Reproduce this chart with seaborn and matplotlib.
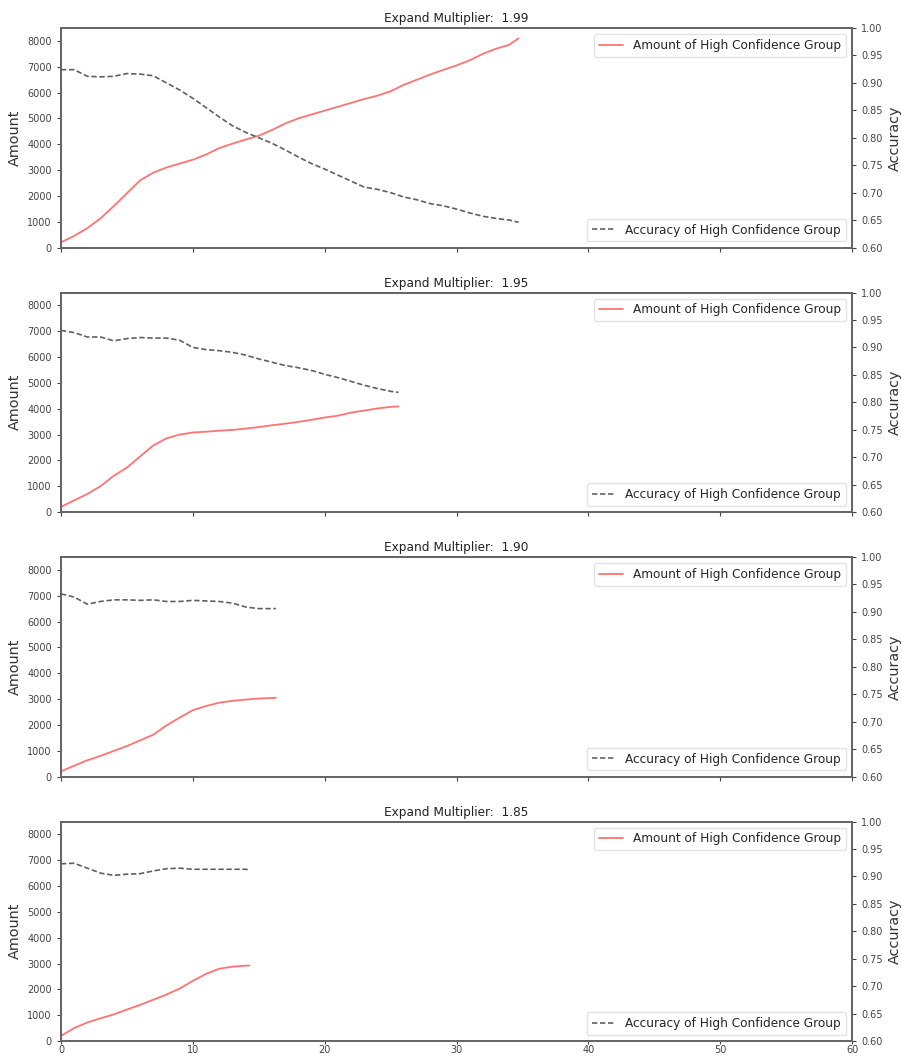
import numpy as np
import pandas as pd
import matplotlib
matplotlib.use('Agg')
import matplotlib.pyplot as plt
import seaborn as sns

sns.set_style('ticks')
plt.rcParams['font.family'] = ['DejaVu Sans']

multipliers = ['1.99', '1.95', '1.90', '1.85']

# panel 1.99
steps_199 = list(range(35)) + [34.7]
amount_199 = [200, 450, 750, 1130, 1600, 2100, 2600, 2900, 3100, 3250,
              3400, 3600, 3850, 4020, 4180, 4330, 4550, 4800, 5000, 5150,
              5300, 5450, 5600, 5750, 5880, 6050, 6300, 6500, 6700, 6880,
              7050, 7250, 7500, 7700, 7850, 8100]
acc_199 = [0.924, 0.924, 0.912, 0.911, 0.912, 0.917, 0.916, 0.913, 0.900, 0.887,
           0.872, 0.855, 0.838, 0.822, 0.810, 0.800, 0.790, 0.778, 0.765, 0.753,
           0.743, 0.732, 0.721, 0.710, 0.706, 0.700, 0.692, 0.687, 0.680, 0.676,
           0.670, 0.663, 0.657, 0.653, 0.650, 0.646]

# panel 1.95
steps_195 = list(range(26)) + [25.6]
amount_195 = [200, 450, 700, 1000, 1400, 1720, 2150, 2580, 2850, 3000,
              3080, 3110, 3150, 3180, 3230, 3290, 3360, 3420, 3490, 3570,
              3660, 3730, 3850, 3930, 4010, 4070, 4090]
acc_195 = [0.931, 0.927, 0.919, 0.919, 0.912, 0.916, 0.918, 0.917, 0.917, 0.913,
           0.900, 0.896, 0.894, 0.891, 0.886, 0.879, 0.873, 0.867, 0.863, 0.858,
           0.851, 0.845, 0.838, 0.831, 0.825, 0.820, 0.818]

# panel 1.90
steps_190 = list(range(17)) + [16.3]
amount_190 = [200, 420, 630, 800, 990, 1180, 1400, 1620, 1980, 2280,
              2570, 2730, 2860, 2930, 2980, 3020, 3040, 3050]
acc_190 = [0.933, 0.927, 0.914, 0.919, 0.922, 0.922, 0.921, 0.922, 0.919, 0.919,
           0.921, 0.920, 0.919, 0.916, 0.909, 0.906, 0.906, 0.906]

# panel 1.85
steps_185 = list(range(15)) + [14.3]
amount_185 = [200, 500, 720, 880, 1030, 1220, 1400, 1600, 1800, 2030,
              2330, 2600, 2800, 2880, 2920, 2925]
acc_185 = [0.923, 0.924, 0.915, 0.906, 0.902, 0.904, 0.905, 0.910, 0.914, 0.915,
           0.913, 0.913, 0.913, 0.913, 0.913, 0.912]

panels = [(steps_199, amount_199, acc_199),
          (steps_195, amount_195, acc_195),
          (steps_190, amount_190, acc_190),
          (steps_185, amount_185, acc_185)]

fig, axes = plt.subplots(4, 1, figsize=(9.02, 10.57), dpi=100, sharex=True)
fig.subplots_adjust(left=0.0676, right=0.9446, top=0.9735, bottom=0.0151, hspace=0.205)

edge = '#666666'
for ax, mult, (steps, amount, acc) in zip(axes, multipliers, panels):
    df = pd.DataFrame({'step': steps, 'amount': amount, 'acc': acc})
    sns.lineplot(data=df, x='step', y='amount', ax=ax, color='#ff7373', linewidth=1.3,
                 label='Amount of High Confidence Group', sort=False)
    ax.set_xlim(0, 60)
    ax.set_ylim(0, 8500)
    ax.set_yticks(np.arange(0, 8001, 1000))
    ax.set_ylabel('Amount', fontsize=10.4, color='#333333')
    ax.set_xlabel('')
    ax.set_title('Expand Multiplier:  ' + mult, fontsize=8.7, pad=4, color='#222222')
    ax.legend(loc='upper right', fontsize=8.7, edgecolor='#dddddd', fancybox=True)
    ax.tick_params(labelsize=7, colors='#444444', length=3)

    ax2 = ax.twinx()
    sns.lineplot(data=df, x='step', y='acc', ax=ax2, color='#606060', linewidth=1.2,
                 linestyle=(0, (3.2, 1.6)), label='Accuracy of High Confidence Group', sort=False)
    ax2.set_ylim(0.6, 1.0)
    ax2.set_yticks(np.arange(0.6, 1.001, 0.05))
    ax2.set_yticklabels([f'{t:.2f}' for t in np.arange(0.6, 1.001, 0.05)])
    ax2.set_ylabel('Accuracy', fontsize=10.4, color='#333333')
    ax2.legend(loc='lower right', fontsize=8.7, edgecolor='#dddddd', fancybox=True)
    ax2.tick_params(labelsize=7, colors='#444444', length=3)

    for a in (ax, ax2):
        for s in a.spines.values():
            s.set_color(edge)
            s.set_linewidth(1.3)

axes[-1].set_xticks(np.arange(0, 61, 10))
axes[-1].tick_params(axis='x', labelsize=7, colors='#444444', length=2, pad=1)

fig.savefig('out.png', dpi=100)
